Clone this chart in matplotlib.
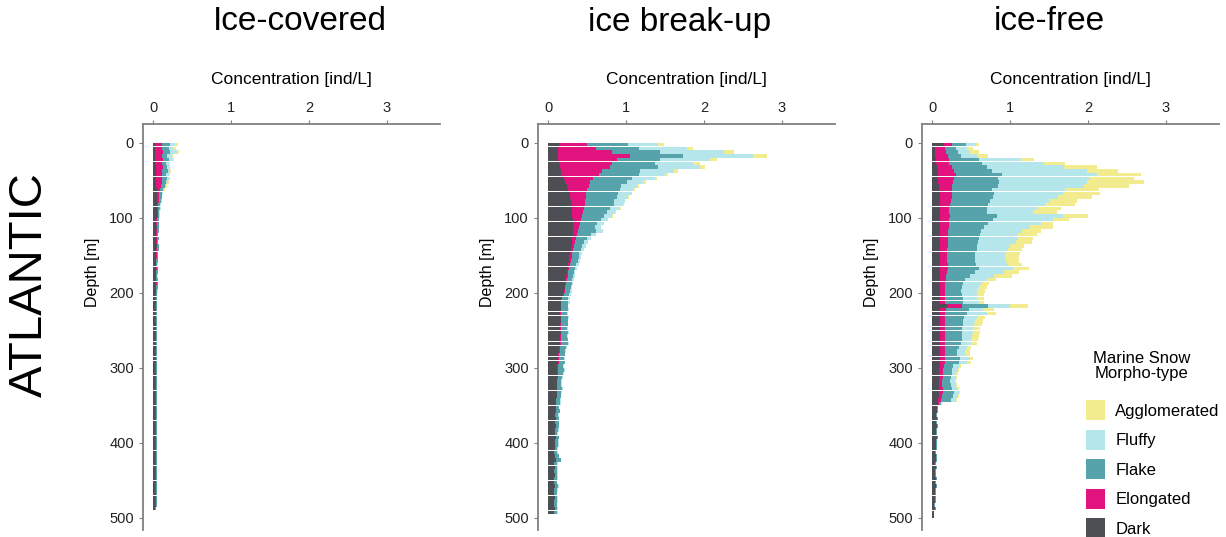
import numpy as np
import matplotlib
matplotlib.use("Agg")
import matplotlib.pyplot as plt
from matplotlib.patches import Patch

plt.rcParams['font.family'] = ['Liberation Sans', 'DejaVu Sans']

# depth bins, 5 m each (top of bin)
depth = np.arange(0, 500, 5)

# morpho-types, stacked left to right
types = ['Dark', 'Elongated', 'Flake', 'Fluffy', 'Agglomerated']
colors = ['#4e4f55', '#e2137f', '#56a3ab', '#b5e6ec', '#f3ec8e']

panel_titles = ['Ice-covered', 'ice break-up', 'ice-free']

# ---- ice-covered ----
cov_dark = [0.03, 0.03, 0.03, 0.03, 0.03, 0.03, 0.04, 0.04, 0.04, 0.04,
            0.04, 0.04, 0.05, 0.05, 0.05, 0.05, 0.05, 0.05, 0.05, 0.05,
            0.04, 0.04, 0.05, 0.04, 0.04, 0.04, 0.04, 0.05, 0.04, 0.04,
            0.04, 0.035, 0.035, 0.04, 0.035, 0.035, 0.035, 0.04, 0.035, 0.035,
            0.03, 0.03, 0.035, 0.03, 0.03, 0.03, 0.03, 0.03, 0.035, 0.03,
            0.03, 0.03, 0.03, 0.03, 0.035, 0.03, 0.03, 0.03, 0.03, 0.03,
            0.03, 0.03, 0.03, 0.03, 0.03, 0.03, 0.03, 0.03, 0.03, 0.03,
            0.03, 0.03, 0.03, 0.03, 0.03, 0.03, 0.03, 0.03, 0.03, 0.03,
            0.03, 0.03, 0.03, 0.03, 0.03, 0.03, 0.03, 0.03, 0.03, 0.03,
            0.03, 0.03, 0.03, 0.03, 0.03, 0.03, 0.03, 0.025, 0, 0]
cov_elong = [0.08, 0.09, 0.10, 0.09, 0.10, 0.09, 0.09, 0.08, 0.08, 0.07,
             0.07, 0.06, 0.04, 0.03, 0.02, 0.02, 0.01, 0.01, 0.01, 0.01,
             0.005, 0.005, 0.005, 0.005, 0.005, 0.005, 0.005, 0.005, 0.005, 0.005,
             0.005, 0.005, 0.005, 0.005, 0.005, 0.005, 0.005, 0.005, 0.005, 0.005,
             0.003, 0.003, 0.003, 0.003, 0.003, 0.003, 0.003, 0.003, 0.003, 0.003,
             0.003, 0.003, 0.003, 0.003, 0.003, 0.003, 0.003, 0.003, 0.003, 0.003,
             0.003, 0.003, 0.003, 0.003, 0.003, 0.003, 0.003, 0.003, 0.003, 0.003,
             0.003, 0.003, 0.003, 0.003, 0.003, 0.003, 0.003, 0.003, 0.003, 0.003,
             0.003, 0.003, 0.003, 0.003, 0.003, 0.003, 0.003, 0.003, 0.003, 0.003,
             0.003, 0.003, 0.003, 0.003, 0.003, 0.003, 0.003, 0.003, 0, 0]
cov_flake = [0.11, 0.08, 0.09, 0.06, 0.07, 0.05, 0.05, 0.07, 0.05, 0.07,
             0.05, 0.05, 0.04, 0.04, 0.04, 0.03, 0.03, 0.03, 0.02, 0.02,
             0.025, 0.03, 0.02, 0.025, 0.02, 0.025, 0.02, 0.02, 0.025, 0.02,
             0.02, 0.02, 0.015, 0.02, 0.02, 0.015, 0.02, 0.015, 0.02, 0.015,
             0.012, 0.015, 0.012, 0.012, 0.015, 0.012, 0.012, 0.015, 0.012, 0.012,
             0.012, 0.012, 0.015, 0.012, 0.012, 0.012, 0.015, 0.012, 0.012, 0.012,
             0.012, 0.015, 0.012, 0.012, 0.012, 0.012, 0.012, 0.015, 0.012, 0.012,
             0.012, 0.012, 0.012, 0.015, 0.012, 0.012, 0.012, 0.012, 0.012, 0.012,
             0.012, 0.012, 0.012, 0.012, 0.015, 0.012, 0.012, 0.012, 0.012, 0.012,
             0.012, 0.012, 0.012, 0.012, 0.012, 0.012, 0.012, 0.01, 0, 0]
cov_fluffy = [0.06, 0.06, 0.08, 0.06, 0.05, 0.03, 0.03, 0.03, 0.03, 0.03,
              0.03, 0.02, 0.01, 0.01, 0.01, 0.01, 0.005, 0.005, 0.005, 0.005,
              0.003, 0.003, 0.003, 0.003, 0.003, 0.003, 0.003, 0.003, 0.003, 0.003,
              0.003, 0.003, 0.003, 0.003, 0.003, 0.003, 0.003, 0.003, 0.003, 0.003,
              0.002, 0.002, 0.002, 0.002, 0.002, 0.002, 0.002, 0.002, 0.002, 0.002,
              0.002, 0.002, 0.002, 0.002, 0.002, 0.002, 0.002, 0.002, 0.002, 0.002,
              0.002, 0.002, 0.002, 0.002, 0.002, 0.002, 0.002, 0.002, 0.002, 0.002,
              0.002, 0.002, 0.002, 0.002, 0.002, 0.002, 0.002, 0.002, 0.002, 0.002,
              0.002, 0.002, 0.002, 0.002, 0.002, 0.002, 0.002, 0.002, 0.002, 0.002,
              0.002, 0.002, 0.002, 0.002, 0.002, 0.002, 0.002, 0.002, 0, 0]
cov_aggl = [0.04, 0.03, 0.03, 0.02, 0.02, 0.01, 0.01, 0.01, 0.01, 0.01,
            0.01, 0.01, 0.01] + [0] * 87

# ---- ice break-up ----
brk_dark = [0.14, 0.13, 0.13, 0.13, 0.13, 0.14, 0.15, 0.16, 0.17, 0.20,
            0.22, 0.24, 0.26, 0.28, 0.28, 0.29, 0.30, 0.30, 0.31, 0.31,
            0.32, 0.32, 0.33, 0.32, 0.32, 0.31, 0.30, 0.30, 0.29, 0.28,
            0.27, 0.27, 0.26, 0.25, 0.24, 0.23, 0.22, 0.22, 0.21, 0.20,
            0.19, 0.17, 0.16, 0.16, 0.16, 0.15, 0.16, 0.16, 0.15, 0.15,
            0.16, 0.15, 0.15, 0.15, 0.14, 0.14, 0.13, 0.13, 0.13, 0.12,
            0.12, 0.12, 0.12, 0.11, 0.11, 0.11, 0.11, 0.11, 0.10, 0.10,
            0.10, 0.10, 0.09, 0.10, 0.09, 0.10, 0.09, 0.09, 0.10, 0.09,
            0.09, 0.09, 0.08, 0.09, 0.10, 0.08, 0.09, 0.08, 0.09, 0.08,
            0.08, 0.09, 0.08, 0.08, 0.09, 0.08, 0.08, 0.09, 0.08, 0]
brk_elong = [0.36, 0.49, 0.69, 0.92, 0.75, 0.68, 0.65, 0.53, 0.48, 0.38,
             0.32, 0.28, 0.24, 0.20, 0.20, 0.18, 0.17, 0.16, 0.14, 0.13,
             0.10, 0.09, 0.07, 0.06, 0.05, 0.05, 0.04, 0.03, 0.03, 0.03,
             0.03, 0.02, 0.02, 0.02, 0.02, 0.02, 0.02, 0.01, 0.01, 0.01,
             0.01, 0.01, 0.01, 0.01, 0.01, 0.01, 0.01, 0.01, 0.01, 0.01,
             0.01, 0.01, 0.01, 0.01, 0.01, 0.01, 0.01, 0.01, 0.01, 0.01,
             0.01, 0.01, 0.01, 0.01, 0.01, 0.01, 0.01, 0, 0, 0] + [0] * 30
brk_flake = [0.52, 0.55, 0.62, 0.68, 0.56, 0.55, 0.61, 0.49, 0.51, 0.49,
             0.47, 0.42, 0.42, 0.42, 0.40, 0.38, 0.37, 0.34, 0.30, 0.28,
             0.26, 0.22, 0.20, 0.24, 0.18, 0.14, 0.12, 0.11, 0.10, 0.09,
             0.09, 0.09, 0.08, 0.08, 0.07, 0.07, 0.07, 0.07, 0.07, 0.07,
             0.07, 0.08, 0.09, 0.08, 0.09, 0.08, 0.09, 0.08, 0.09, 0.08,
             0.09, 0.08, 0.09, 0.10, 0.08, 0.07, 0.07, 0.06, 0.07, 0.06,
             0.07, 0.06, 0.05, 0.05, 0.05, 0.06, 0.05, 0.05, 0.05, 0.05,
             0.04, 0.05, 0.04, 0.04, 0.05, 0.04, 0.04, 0.03, 0.04, 0.04,
             0.04, 0.03, 0.04, 0.05, 0.06, 0.04, 0.03, 0.04, 0.03, 0.04,
             0.03, 0.04, 0.04, 0.03, 0.03, 0.04, 0.03, 0.03, 0.04, 0]
brk_fluffy = [0.39, 0.61, 0.81, 0.90, 0.64, 0.49, 0.54, 0.43, 0.34, 0.30,
              0.21, 0.20, 0.17, 0.17, 0.14, 0.13, 0.12, 0.12, 0.11, 0.10,
              0.09, 0.09, 0.08, 0.08, 0.06, 0.05, 0.05, 0.04, 0.04, 0.04,
              0.03, 0.03, 0.03, 0.02, 0.02, 0.02, 0.02, 0.02, 0.02, 0.02,
              0.02, 0.02, 0.02, 0.01, 0.01, 0.01, 0.01, 0.01, 0.01, 0.01,
              0.01, 0.01, 0.01, 0.01, 0.01, 0.01, 0.01, 0.01, 0.01, 0.01,
              0.01, 0.01, 0.01, 0.01, 0.01, 0.01, 0.01, 0.01, 0.01, 0.01,
              0.005, 0.005, 0.005, 0.005, 0.005, 0.005, 0.005, 0.005, 0.005, 0.005,
              0.005, 0.005, 0.005, 0.005, 0.005, 0.005, 0.005, 0.005, 0.005, 0.005,
              0.005, 0.005, 0.005, 0.005, 0.005, 0.005, 0.005, 0.005, 0.005, 0]
brk_aggl = [0.07, 0.08, 0.13, 0.18, 0.08, 0.09, 0.06, 0.05, 0.04, 0.03,
            0.04, 0.03, 0.02, 0.01, 0.02, 0.01, 0.01, 0.01, 0.01, 0.01] + [0] * 80

# ---- ice-free ----
free_dark = [0.15, 0.04, 0.04, 0.04, 0.05, 0.05, 0.06, 0.07, 0.08, 0.08,
             0.08, 0.09, 0.09, 0.10, 0.10, 0.10, 0.10, 0.10, 0.10, 0.10,
             0.10, 0.10, 0.10, 0.10, 0.10, 0.10, 0.10, 0.10, 0.10, 0.10,
             0.10, 0.10, 0.10, 0.10, 0.10, 0.10, 0.10, 0.10, 0.10, 0.10,
             0.10, 0.10, 0.10, 0.19, 0.10, 0.10, 0.10, 0.10, 0.10, 0.10,
             0.10, 0.10, 0.10, 0.10, 0.10, 0.10, 0.10, 0.10, 0.10, 0.10,
             0.09, 0.09, 0.09, 0.09, 0.09, 0.09, 0.09, 0.09, 0.08, 0.07,
             0.06, 0.06, 0.05, 0.06, 0.05, 0.06, 0.05, 0.05, 0.06, 0.05,
             0.05, 0.05, 0.04, 0.05, 0.05, 0.04, 0.05, 0.04, 0.04, 0.05,
             0.04, 0.05, 0.04, 0.04, 0.04, 0.04, 0.03, 0.04, 0.03, 0.02]
free_elong = [0.11, 0.12, 0.14, 0.16, 0.16, 0.17, 0.19, 0.21, 0.22, 0.20,
              0.19, 0.17, 0.17, 0.15, 0.15, 0.14, 0.13, 0.12, 0.12, 0.13,
              0.12, 0.11, 0.11, 0.10, 0.10, 0.10, 0.10, 0.10, 0.09, 0.09,
              0.09, 0.09, 0.10, 0.10, 0.09, 0.08, 0.08, 0.07, 0.07, 0.07,
              0.07, 0.07, 0.07, 0.19, 0.08, 0.07, 0.07, 0.07, 0.07, 0.07,
              0.07, 0.07, 0.07, 0.06, 0.06, 0.06, 0.06, 0.07, 0.07, 0.05,
              0.05, 0.05, 0.05, 0.04, 0.04, 0.05, 0.05, 0.04, 0.04, 0.02] + [0] * 30
free_flake = [0.17, 0.14, 0.15, 0.17, 0.39, 0.42, 0.46, 0.49, 0.60, 0.56,
              0.59, 0.58, 0.51, 0.54, 0.53, 0.50, 0.49, 0.48, 0.48, 0.60,
              0.56, 0.51, 0.45, 0.43, 0.42, 0.40, 0.39, 0.38, 0.38, 0.36,
              0.36, 0.36, 0.36, 0.40, 0.36, 0.30, 0.24, 0.23, 0.21, 0.20,
              0.21, 0.22, 0.23, 0.34, 0.29, 0.28, 0.24, 0.23, 0.22, 0.21,
              0.21, 0.21, 0.21, 0.21, 0.18, 0.16, 0.16, 0.19, 0.17, 0.12,
              0.12, 0.11, 0.10, 0.10, 0.11, 0.12, 0.14, 0.14, 0.12, 0.03,
              0.01, 0.01, 0.01, 0.01, 0.01, 0.01, 0.01, 0.01, 0.01, 0.01,
              0.01, 0.01, 0.01, 0.01, 0.01, 0.01, 0.01, 0.01, 0.01, 0.01,
              0.01, 0.01, 0.01, 0.01, 0.01, 0.01, 0.01, 0.01, 0, 0]
free_fluffy = [0.13, 0.15, 0.16, 0.21, 0.54, 0.80, 0.98, 1.22, 1.22, 1.19,
               1.13, 1.11, 0.94, 0.89, 0.84, 0.76, 0.73, 0.64, 0.60, 0.85,
               0.77, 0.68, 0.60, 0.52, 0.48, 0.50, 0.49, 0.42, 0.40, 0.39,
               0.38, 0.40, 0.41, 0.44, 0.37, 0.32, 0.28, 0.24, 0.22, 0.20,
               0.20, 0.19, 0.20, 0.28, 0.18, 0.25, 0.17, 0.15, 0.15, 0.15,
               0.15, 0.13, 0.12, 0.13, 0.11, 0.10, 0.10, 0.12, 0.11, 0.08,
               0.07, 0.06, 0.06, 0.06, 0.06, 0.07, 0.06, 0.06, 0.06, 0.01] + [0] * 30
free_aggl = [0.04, 0.07, 0.11, 0.14, 0.17, 0.27, 0.43, 0.39, 0.56, 0.56,
             0.73, 0.58, 0.43, 0.47, 0.43, 0.36, 0.38, 0.31, 0.30, 0.32,
             0.20, 0.15, 0.29, 0.25, 0.24, 0.20, 0.20, 0.18, 0.18, 0.19,
             0.19, 0.17, 0.18, 0.20, 0.20, 0.22, 0.12, 0.09, 0.10, 0.11,
             0.09, 0.08, 0.06, 0.23, 0.15, 0.12, 0.10, 0.10, 0.10, 0.09,
             0.09, 0.09, 0.09, 0.08, 0.05, 0.06, 0.06, 0.04, 0.05, 0.02,
             0.02, 0.02, 0.02, 0.02, 0.02, 0.02, 0.02, 0.02, 0.02, 0] + [0] * 30

panels = [
    [cov_dark, cov_elong, cov_flake, cov_fluffy, cov_aggl],
    [brk_dark, brk_elong, brk_flake, brk_fluffy, brk_aggl],
    [free_dark, free_elong, free_flake, free_fluffy, free_aggl],
]

W, H = 1226, 537
fig = plt.figure(figsize=(W / 100, H / 100), dpi=100)

ax_left = [143, 538, 922]
title_x = [300, 680, 1049]
axw = 297 / W
for i, series in enumerate(panels):
    ax = fig.add_axes([ax_left[i] / W, 7 / H, axw, (530 - 124) / H])
    left = np.zeros(len(depth))
    for vals, c in zip(series, colors):
        vals = np.array(vals, dtype=float)
        ax.barh(depth + 2.5, vals, left=left, height=4.6, color=c, linewidth=0)
        left += vals
    ax.set_xlim(-0.13, 3.68)
    ax.set_ylim(516, -25)
    ax.xaxis.tick_top()
    ax.xaxis.set_label_position('top')
    ax.set_xticks([0, 1, 2, 3])
    ax.set_yticks([0, 100, 200, 300, 400, 500])
    ax.set_xlabel('Concentration [ind/L]', fontsize=12.5, labelpad=12)
    ax.set_ylabel('Depth [m]', fontsize=11.5)
    ax.yaxis.set_label_coords(-43 / 297, (530 - 272) / 406)
    for s in ['right', 'bottom']:
        ax.spines[s].set_visible(False)
    for s in ['top', 'left']:
        ax.spines[s].set_color('#808080')
        ax.spines[s].set_linewidth(1.3)
    ax.tick_params(labelsize=10.5, length=3, color='#808080', labelcolor='#222222')
    fig.text(title_x[i] / W, 1 - 22 / H, panel_titles[i], fontsize=24,
             ha='center', va='center')

fig.text(30 / W, 1 - 285 / H, 'ATLANTIC', fontsize=34, rotation=90,
         ha='center', va='center')

# legend title drawn separately so the gap to the entries matches
fig.text(1142 / W, 1 - 366 / H, 'Marine Snow\nMorpho-type', fontsize=12,
         ha='center', va='center', linespacing=1.05)
handles = [Patch(facecolor=c, edgecolor='none') for c in colors[::-1]]
fig.legend(handles, types[::-1],
           loc='upper left', bbox_to_anchor=(1086 / W, 1 - 400 / H),
           frameon=False, fontsize=12,
           handlelength=1.15, handleheight=1.5, labelspacing=0.55,
           handletextpad=0.6, borderpad=0, borderaxespad=0)

fig.savefig('out.png', dpi=100)
